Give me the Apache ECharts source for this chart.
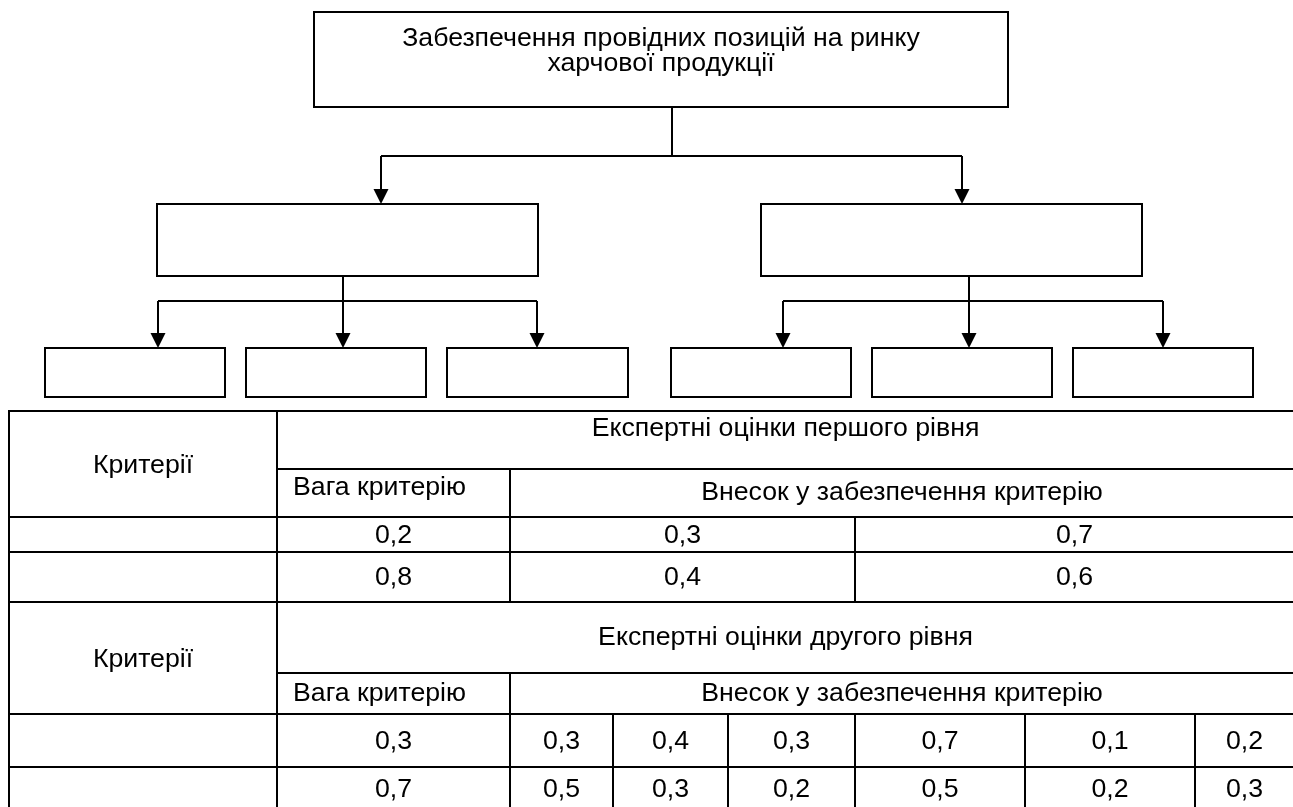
<!DOCTYPE html>
<html><head><meta charset="utf-8">
<script src="https://cdn.jsdelivr.net/npm/echarts@6/dist/echarts.min.js"></script>
<style>html,body{margin:0;padding:0;background:#fff}#main{width:1293px;height:807px}</style>
</head><body><div id="main"></div>
<script>
// ---------- data ----------
const titleLines = ['Забезпечення провідних позицій на ринку', 'харчової продукції'];
const criteriaLabel = 'Критерії';
const levelTitles = ['Експертні оцінки першого рівня', 'Експертні оцінки другого рівня'];
const weightLabel = 'Вага критерію';
const contribLabel = 'Внесок у забезпечення критерію';
const level1Weights = [0.2, 0.8];
const level1Contrib = [[0.3, 0.7], [0.4, 0.6]];
const level2Weights = [0.3, 0.7];
const level2Contrib = [[0.3, 0.4, 0.3, 0.7, 0.1, 0.2], [0.5, 0.3, 0.2, 0.5, 0.2, 0.3]];

// ---------- layout ----------
const W = 1293, H = 807;
const FONT = '"Liberation Sans", Arial, sans-serif';
const FS = 26.7;
const LW = 2;
const ARROW_H = 15, ARROW_HW = 7.5;
const topBox = [314, 12, 1008, 107];
const titleY = [39, 64];
const midBoxes = [[157, 204, 538, 276], [761, 204, 1142, 276]];
const leafBoxes = [[45, 348, 225, 397], [246, 348, 426, 397], [447, 348, 628, 397],
                   [671, 348, 851, 397], [872, 348, 1052, 397], [1073, 348, 1253, 397]];
const level0Link = { stemX: 672, fromY: 107, busY: 156, drops: [381, 962], toY: 204 };
const level1Links = [
  { stemX: 343, fromY: 276, busY: 301, drops: [158, 343, 537], toY: 348 },
  { stemX: 969, fromY: 276, busY: 301, drops: [783, 969, 1163], toY: 348 }
];
const colsL1 = [9, 277, 510, 855, 1294];
const colsL2 = [9, 277, 510, 613, 728, 855, 1025, 1195, 1294];
const rowsB1 = [411, 469, 517, 552, 602];
const rowsB2 = [602, 673, 714, 767, 811];

const fmt = v => v.toFixed(1).replace('.', ',');

// ---------- build table cells ----------
const cells = [];
function cell(x0, y0, x1, y1, text, align, dy) {
  cells.push({ x0, y0, x1, y1, text: text || '', align: align || 'center', dy: dy || 0 });
}
function block(rows, title, weights, contrib, cols, titleDy, weightDy) {
  cell(colsL1[0], rows[0], colsL1[1], rows[2], criteriaLabel, 'center', 2);
  cell(colsL1[1], rows[0], colsL1[4], rows[1], title, 'center', titleDy);
  cell(colsL1[1], rows[1], colsL1[2], rows[2], weightLabel, 'left', weightDy);
  cell(colsL1[2], rows[1], colsL1[4], rows[2], contribLabel);
  weights.forEach((w, r) => {
    const y0 = rows[2 + r], y1 = rows[3 + r];
    cell(cols[0], y0, cols[1], y1, '');
    cell(cols[1], y0, cols[2], y1, fmt(w), 'center', 1);
    contrib[r].forEach((v, k) => cell(cols[2 + k], y0, cols[3 + k], y1, fmt(v), 'center', 1));
  });
}
block(rowsB1, levelTitles[0], level1Weights, level1Contrib, colsL1, -11, -5);
block(rowsB2, levelTitles[1], level2Weights, level2Contrib, colsL2, 0, 0);

// ---------- diagram pieces ----------
const boxes = [topBox].concat(midBoxes, leafBoxes);
const polylines = [];
const arrows = [];
function addLink(l) {
  polylines.push([[l.stemX, l.fromY], [l.stemX, l.busY]]);
  const xs = l.drops.slice().sort((a, b) => a - b);
  polylines.push([[xs[0], l.busY], [xs[xs.length - 1], l.busY]]);
  l.drops.forEach(x => {
    polylines.push([[x, l.busY], [x, l.toY - ARROW_H + 1]]);
    arrows.push([x, l.toY]);
  });
}
addLink(level0Link);
level1Links.forEach(addLink);

const chart = echarts.init(document.getElementById('main'), null, { renderer: 'canvas' });
chart.setOption({
  animation: false,
  backgroundColor: '#fff',
  grid: { left: 0, right: 0, top: 0, bottom: 0 },
  xAxis: { type: 'value', min: 0, max: W, show: false },
  yAxis: { type: 'value', min: 0, max: H, inverse: true, show: false },
  series: [
    {
      type: 'custom', name: 'boxes', silent: true,
      data: boxes,
      renderItem: (params, api) => {
        const b = boxes[params.dataIndex];
        const p0 = api.coord([b[0], b[1]]), p1 = api.coord([b[2], b[3]]);
        const children = [{ type: 'rect', shape: { x: p0[0], y: p0[1], width: p1[0] - p0[0], height: p1[1] - p0[1] },
          style: { fill: '#fff', stroke: '#000', lineWidth: LW } }];
        if (params.dataIndex === 0) {
          titleLines.forEach((t, i) => {
            const p = api.coord([(b[0] + b[2]) / 2, titleY[i]]);
            children.push({ type: 'text', x: p[0], y: p[1],
              style: { text: t, fill: '#000', fontSize: FS, fontFamily: FONT, align: 'center', verticalAlign: 'middle' } });
          });
        }
        return { type: 'group', children };
      }
    },
    {
      type: 'custom', name: 'links', silent: true,
      data: polylines.map((p, i) => [i]),
      renderItem: (params, api) => {
        const pts = polylines[params.dataIndex].map(p => api.coord(p));
        return { type: 'polyline', shape: { points: pts }, style: { stroke: '#000', lineWidth: LW, fill: null } };
      }
    },
    {
      type: 'custom', name: 'arrows', silent: true,
      data: arrows,
      renderItem: (params, api) => {
        const a = arrows[params.dataIndex];
        const tip = api.coord([a[0], a[1]]);
        const l = api.coord([a[0] - ARROW_HW, a[1] - ARROW_H]);
        const r = api.coord([a[0] + ARROW_HW, a[1] - ARROW_H]);
        return { type: 'polygon', shape: { points: [tip, l, r] }, style: { fill: '#000' } };
      }
    },
    {
      type: 'custom', name: 'table', silent: true,
      data: cells.map(c => [c.x0, c.y0, c.x1, c.y1]),
      renderItem: (params, api) => {
        const c = cells[params.dataIndex];
        const p0 = api.coord([c.x0, c.y0]), p1 = api.coord([c.x1, c.y1]);
        const children = [{ type: 'rect', shape: { x: p0[0], y: p0[1], width: p1[0] - p0[0], height: p1[1] - p0[1] },
          style: { fill: null, stroke: '#000', lineWidth: LW } }];
        if (c.text) {
          const tx = c.align === 'left' ? api.coord([c.x0 + 16, 0])[0] : (p0[0] + p1[0]) / 2;
          const ty = api.coord([0, (c.y0 + c.y1) / 2 + c.dy])[1];
          children.push({ type: 'text', x: tx, y: ty,
            style: { text: c.text, fill: '#000', fontSize: FS, fontFamily: FONT, align: c.align, verticalAlign: 'middle' } });
        }
        return { type: 'group', children };
      }
    }
  ]
});
</script>
</body></html>
